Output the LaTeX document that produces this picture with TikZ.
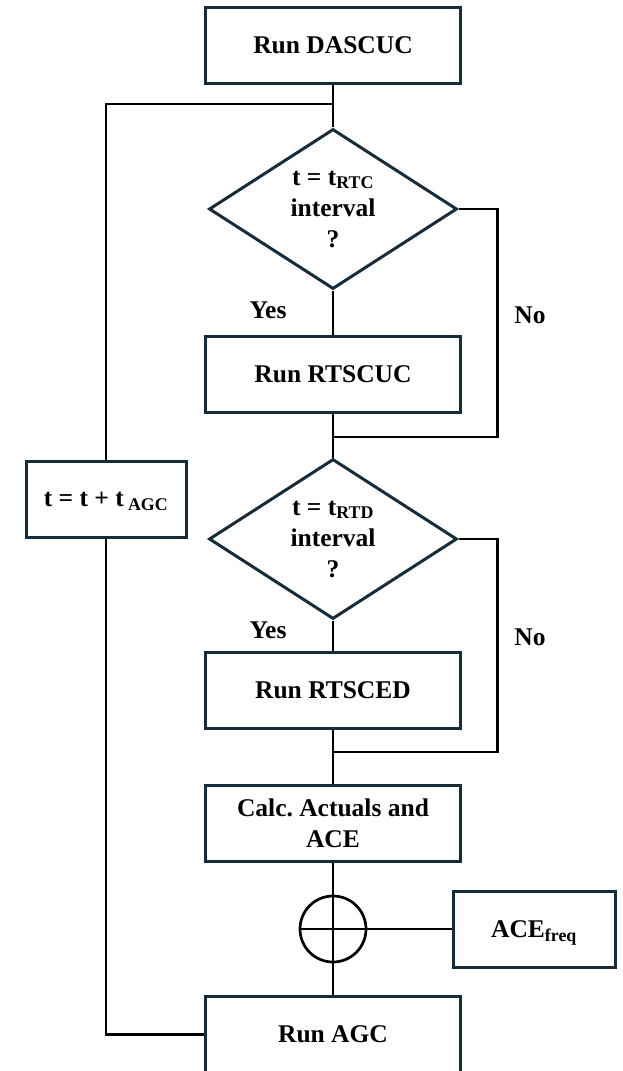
\documentclass[tikz,border=0pt]{standalone}
\usepackage{fontspec}
\setmainfont{Liberation Serif}
\usetikzlibrary{shapes.geometric}
\definecolor{mynavy}{RGB}{22,44,58}

\begin{document}
\begin{tikzpicture}[x=1pt, y=-1pt,
    every node/.style={font=\fontsize{25.5}{31}\selectfont\bfseries, align=center, text depth=0pt},
    stepbox/.style={draw=mynavy, line width=3pt, rectangle, minimum width=255pt, minimum height=76pt, inner sep=0pt},
    decision/.style={draw=mynavy, line width=3pt, diamond, aspect=1.55, minimum width=248pt, minimum height=160pt, inner sep=0pt},
    wire/.style={draw=black, line width=2.7pt}]
    \useasboundingbox (0,0) rectangle (623,1071);

    % Main column
    \node[stepbox] (dascuc) at (333,45.5) {Run DASCUC};
    \coordinate (loopin) at (333,104);
    \node[decision] (rtc) at (333,209) {t = t\textsubscript{RTC}\\interval\\?};
    \node[stepbox] (rtscuc) at (333,374) {Run RTSCUC};
    \coordinate (join1) at (333,437);
    \node[decision] (rtd) at (333,539) {t = t\textsubscript{RTD}\\interval\\?};
    \node[stepbox] (rtsced) at (333,690.5) {Run RTSCED};
    \coordinate (join2) at (333,752);
    \node[stepbox] (calc) at (333,823.5) {Calc.\ Actuals and\\ACE};
    \node[draw=black, line width=2.7pt, circle, minimum size=66pt, inner sep=0pt] (sum) at (333,929) {};
    \node[stepbox] (agc) at (333,1034.5) {Run AGC};

    % Side boxes
    \node[stepbox, minimum width=162pt] (acefreq) at (534,929) {ACE\textsubscript{freq}};
    \node[stepbox, minimum width=160pt] (tstep) at (106,499.5) {t = t + t\,\textsubscript{AGC}};

    % Branch labels
    \node (yes1) at (268,310) {Yes};
    \node (no1) at (530,315) {No};
    \node (yes2) at (268,630) {Yes};
    \node (no2) at (530,637) {No};

    % Connectors
    \draw[wire] (dascuc) -- (rtc);
    \draw[wire] (rtc) -- (rtscuc);
    \draw[wire] (rtc.east) -- ++(39,0) |- (join1);
    \draw[wire] (rtscuc) -- (rtd);
    \draw[wire] (rtd.east) -- ++(39,0) |- (join2);
    \draw[wire] (rtd) -- (rtsced);
    \draw[wire] (rtsced) -- (calc);
    \draw[wire] (calc) -- (agc);
    \draw[wire] (sum.west) -- (acefreq.west);
    \draw[wire] (agc.west) -| (tstep.south);
    \draw[wire] (tstep.north) |- (loopin);
\end{tikzpicture}
\end{document}
